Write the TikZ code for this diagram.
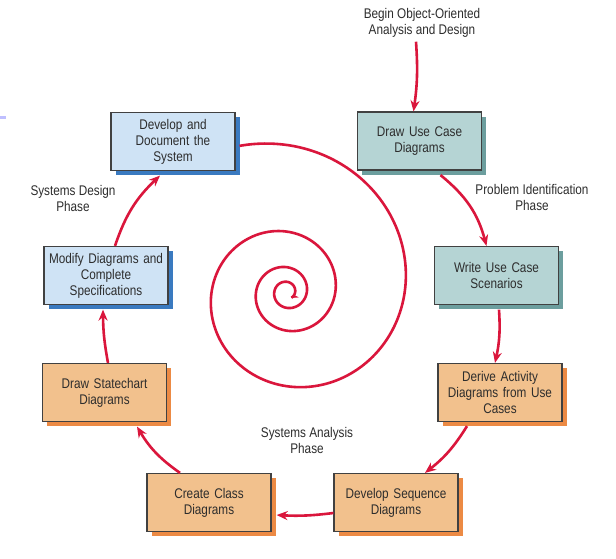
\documentclass[tikz,border=0pt]{standalone}
\usepackage{fontspec}
\setmainfont[FakeStretch=0.84]{Liberation Sans}
\usetikzlibrary{arrows.meta,shadows}
\definecolor{tealfill}{RGB}{181,212,212}
\definecolor{tealshadow}{RGB}{108,158,158}
\definecolor{bluefill}{RGB}{207,227,245}
\definecolor{blueshadow}{RGB}{58,122,192}
\definecolor{orfill}{RGB}{242,193,141}
\definecolor{orshadow}{RGB}{236,138,68}
\definecolor{arrred}{RGB}{218,22,60}
\definecolor{txt}{RGB}{45,45,45}
\definecolor{edge}{RGB}{65,65,65}
\tikzset{
  box/.style={draw=edge, line width=1.2pt, minimum width=124pt, minimum height=58pt,
    inner sep=0pt, text width=120pt, align=center, text=txt,
    font=\fontsize{14}{16}\selectfont},
  tealbox/.style={box, fill=tealfill, drop shadow={shadow xshift=4.5pt, shadow yshift=-4.5pt, fill=tealshadow, opacity=1}},
  bluebox/.style={box, fill=bluefill, drop shadow={shadow xshift=4.5pt, shadow yshift=-4.5pt, fill=blueshadow, opacity=1}},
  orbox/.style={box, fill=orfill, drop shadow={shadow xshift=4.5pt, shadow yshift=-4.5pt, fill=orshadow, opacity=1}},
  lbl/.style={align=center, text=txt, font=\fontsize{14}{16}\selectfont, inner sep=1pt},
  arr/.style={draw=arrred, line width=2.6pt, -{Stealth[length=11pt,width=9pt]}},
  spiralline/.style={draw=arrred, line width=2.6pt, -{Stealth[length=7pt,width=7pt]}}
}
\begin{document}
\begin{tikzpicture}[x=1pt,y=-1pt]
\path[use as bounding box, fill=white] (0,0) rectangle (616,558);
\fill[blue!25] (0,116) rectangle (6,118.5);
% boxes
\node[tealbox] (uc) at (419.5,141) {Draw Use Case\\Diagrams};
\node[tealbox] (sc) at (496.5,275.5) {Write Use Case\\Scenarios};
\node[orbox] (ad) at (500,392.5) {Derive Activity\\Diagrams from Use\\Cases};
\node[orbox] (sq) at (396,502.5) {Develop Sequence\\Diagrams};
\node[orbox] (cl) at (209,502.5) {Create Class\\Diagrams};
\node[orbox] (st) at (104.5,392.5) {Draw Statechart\\Diagrams};
\node[bluebox] (md) at (106,275.5) {Modify Diagrams and\\Complete\\Specifications};
\node[bluebox] (dd) at (173,141.5) {Develop and\\Document the\\System};
% labels
\node[lbl] (begin) at (422,23) {Begin Object-Oriented\\Analysis and Design};
\node[lbl] (pip) at (532,197) {Problem Identification\\Phase};
\node[lbl] (sap) at (307,440) {Systems Analysis\\Phase};
\node[lbl] (sdp) at (73,198) {Systems Design\\Phase};
% arrows
\draw[arr] ([xshift=-6pt,yshift=-3pt]begin.south) to[bend left=6] ([xshift=-6pt]uc.north);
\draw[arr] ([xshift=21pt,yshift=-4.5pt]uc.south) to[bend left=18] ([xshift=-10pt]sc.north);
\draw[arr] ([xshift=2.5pt,yshift=-4.5pt]sc.south) to[bend left=8] ([xshift=-5pt]ad.north);
\draw[arr] ([xshift=-33pt,yshift=-4pt]ad.south) to[bend left=10] ([xshift=29pt]sq.north);
\draw[arr] ([yshift=-10.5pt]sq.west) to[bend left=5] ([xshift=5pt,yshift=-12.5pt]cl.east);
\draw[arr] ([xshift=-29pt]cl.north) to[bend left=12] ([xshift=32.5pt,yshift=-4.5pt]st.south);
\draw[arr] ([xshift=3.5pt]st.north) to[bend left=5] ([xshift=-3pt,yshift=-4.5pt]md.south);
\draw[arr] ([xshift=9pt]md.north) to[bend left=14] ([xshift=-13pt,yshift=-4.5pt]dd.south);
% spiral
\draw[spiralline] plot[domain=252:1495, samples=400, smooth, variable=\t]
  ({287+147*exp(-0.0024793*(\t-270))*cos(\t)}, {292+147*exp(-0.0024793*(\t-270))*sin(\t)});
\end{tikzpicture}
\end{document}
